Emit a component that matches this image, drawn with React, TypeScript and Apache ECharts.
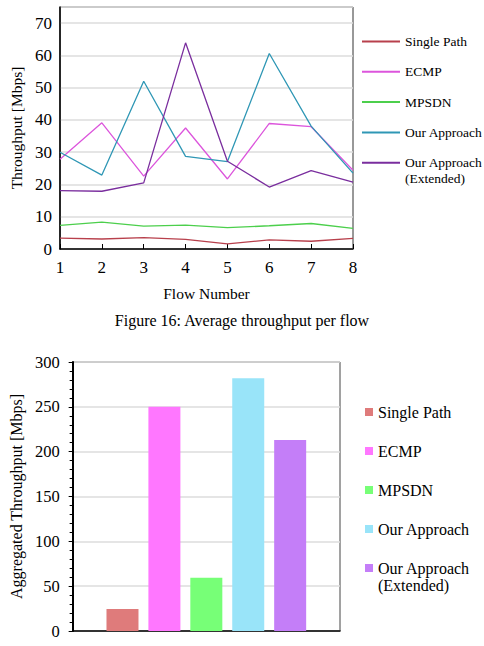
import React, { useEffect, useRef } from "react";
import * as echarts from "echarts";

// Per-flow throughput (Mbps) for flows 1..8
const flows = ["1", "2", "3", "4", "5", "6", "7", "8"];
const singlePath = [3.4, 3.1, 3.5, 3.0, 1.6, 2.8, 2.4, 3.3];
const ecmp = [27.8, 39.1, 22.6, 37.5, 21.7, 38.9, 37.9, 24.4];
const mpsdn = [7.3, 8.3, 7.1, 7.4, 6.6, 7.2, 7.9, 6.4];
const ourApproach = [30.0, 22.9, 52.0, 28.7, 27.1, 60.6, 38.1, 23.5];
const ourApproachExt = [18.1, 17.9, 20.5, 63.9, 27.2, 19.2, 24.3, 20.7];

// Aggregated throughput (Mbps) per method
const methods = ["Single Path", "ECMP", "MPSDN", "Our Approach", "Our Approach (Extended)"];
const aggregated = [24.5, 250, 59.5, 282, 213];

const lineColors = ["#b8404c", "#dc55dc", "#4ccf4c", "#2f97b5", "#7a2e9e"];
const barColors = ["#df7b7b", "#ff77ff", "#77ff77", "#99e4f9", "#c47ef8"];

const FONT = "Liberation Serif";
const txt = (size: number) => ({ fontFamily: FONT, fontSize: size, color: "#000" });

const legendLabel = (name: string) => (name === "Our Approach (Extended)" ? "Our Approach" : name);

function Chart({ option, style }: { option: any; style: React.CSSProperties }) {
  const ref = useRef<HTMLDivElement>(null);
  useEffect(() => {
    if (!ref.current) return;
    const chart = echarts.init(ref.current, undefined, { renderer: "svg" });
    chart.setOption(option);
    return () => chart.dispose();
  }, [option]);
  return <div ref={ref} style={style} />;
}

const perFlowSeries = [singlePath, ecmp, mpsdn, ourApproach, ourApproachExt];

const lineOption = {
  animation: false,
  backgroundColor: "#fff",
  title: {
    text: "Figure 16: Average throughput per flow",
    left: "center",
    top: 311,
    padding: 0,
    textStyle: { ...txt(16), fontWeight: "normal", lineHeight: 18 },
  },
  grid: {
    left: 58,
    top: 7,
    width: 295,
    height: 242,
    show: true,
    borderColor: "#333",
    borderWidth: 1,
  },
  legend: {
    orient: "vertical",
    left: 362,
    top: 34,
    padding: 0,
    itemGap: 15.3,
    itemWidth: 38,
    itemHeight: 2,
    icon: "rect",
    formatter: legendLabel,
    textStyle: { ...txt(13.5), lineHeight: 15 },
    data: methods,
  },
  graphic: [
    {
      type: "text",
      left: 405,
      top: 171,
      style: { text: "(Extended)", font: `13.5px "${FONT}"`, fill: "#000" },
    },
  ],
  xAxis: {
    type: "category",
    data: flows,
    boundaryGap: false,
    name: "Flow Number",
    nameLocation: "middle",
    nameGap: 36,
    nameTextStyle: txt(15.5),
    axisLine: { lineStyle: { color: "#000", width: 1.5 } },
    axisTick: { inside: true, length: 5, lineStyle: { color: "#000" } },
    axisLabel: { ...txt(17), margin: 10 },
  },
  yAxis: {
    type: "value",
    min: 0,
    max: 75,
    interval: 10,
    name: "Throughput [Mbps]",
    nameLocation: "middle",
    nameGap: 36,
    nameTextStyle: txt(15.5),
    axisLine: { show: true, lineStyle: { color: "#000", width: 1.5 } },
    axisTick: { show: false },
    axisLabel: { ...txt(17), margin: 8, formatter: (v: number) => (v % 10 === 0 ? String(v) : "") },
    splitLine: { lineStyle: { color: "#dcdcdc", width: 1.5 } },
  },
  series: methods.map((name, i) => ({
    name,
    type: "line",
    data: perFlowSeries[i],
    symbol: "none",
    color: lineColors[i],
    lineStyle: { width: 1.3, color: lineColors[i] },
  })),
};

const barOption = {
  animation: false,
  backgroundColor: "#fff",
  grid: {
    left: 67,
    top: 27,
    width: 273,
    height: 269,
    show: true,
    borderColor: "#444",
    borderWidth: 1,
  },
  legend: {
    orient: "vertical",
    left: 365,
    top: 68,
    padding: 0,
    itemGap: 21,
    itemWidth: 8,
    itemHeight: 8,
    icon: "rect",
    formatter: legendLabel,
    textStyle: { ...txt(16), lineHeight: 18 },
    data: methods,
  },
  graphic: [
    {
      type: "text",
      left: 378,
      top: 242,
      style: { text: "(Extended)", font: `16px "${FONT}"`, fill: "#000" },
    },
  ],
  xAxis: {
    type: "category",
    data: [""],
    axisLine: { lineStyle: { color: "#000", width: 1.5 } },
    axisTick: { show: false },
    axisLabel: { show: false },
  },
  yAxis: {
    type: "value",
    min: 0,
    max: 300,
    interval: 50,
    name: "Aggregated Throughput [Mbps]",
    nameLocation: "middle",
    nameGap: 45,
    nameTextStyle: txt(16),
    axisLine: { show: true, lineStyle: { color: "#000", width: 2 } },
    axisTick: { show: true, length: 4, lineStyle: { color: "#000" } },
    minorTick: { show: true, splitNumber: 5, length: 3, lineStyle: { color: "#000" } },
    axisLabel: { ...txt(16.5), margin: 13 },
    splitLine: { lineStyle: { color: "#dcdcdc", width: 1.5 } },
  },
  series: methods.map((name, i) => ({
    name,
    type: "bar",
    data: [aggregated[i]],
    barWidth: 32,
    barGap: "31%",
    color: barColors[i],
    itemStyle: { color: barColors[i] },
  })),
};

export default function App() {
  return (
    <div style={{ position: "fixed", left: 0, top: 0, width: 484, height: 646, background: "#fff" }}>
      <Chart option={lineOption} style={{ position: "absolute", left: 0, top: 0, width: 484, height: 335 }} />
      <Chart option={barOption} style={{ position: "absolute", left: 0, top: 335, width: 484, height: 311 }} />
    </div>
  );
}
